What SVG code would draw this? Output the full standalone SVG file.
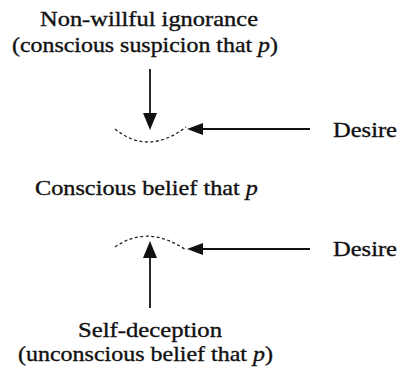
<svg xmlns="http://www.w3.org/2000/svg" width="404" height="374" viewBox="0 0 404 374">
<defs>
<style>
text{font-family:"Liberation Serif","Times New Roman",serif;font-size:21px;fill:#111;stroke:#111;stroke-width:0.35}
.ln{stroke:#111;stroke-width:1.8;fill:none}
.arc{stroke:#222;stroke-width:1.3;fill:none;stroke-dasharray:3 2.5}
.hd{fill:#111;stroke:none}
</style>
</defs>
<rect width="404" height="374" fill="#fff"/>
<g id="nonwillful">
<text x="40" y="26" textLength="218" lengthAdjust="spacingAndGlyphs">Non-willful ignorance</text>
<text x="12" y="52" textLength="266" lengthAdjust="spacingAndGlyphs">(conscious suspicion that <tspan font-style="italic">p</tspan>)</text>
</g>
<g id="junction-upper">
<path class="arc" d="M115,129 Q148,156 186,127"/>
</g>
<g id="desire-upper">
<text x="333" y="137" textLength="64" lengthAdjust="spacingAndGlyphs">Desire</text>
</g>
<g id="conscious-belief">
<text x="35" y="195" textLength="223" lengthAdjust="spacingAndGlyphs">Conscious belief that <tspan font-style="italic">p</tspan></text>
</g>
<g id="junction-lower">
<path class="arc" d="M115,247 Q148,224 186,250"/>
</g>
<g id="desire-lower">
<text x="333" y="256" textLength="64" lengthAdjust="spacingAndGlyphs">Desire</text>
</g>
<g id="self-deception">
<text x="78" y="337" textLength="144" lengthAdjust="spacingAndGlyphs">Self-deception</text>
<text x="18" y="361" textLength="255" lengthAdjust="spacingAndGlyphs">(unconscious belief that <tspan font-style="italic">p</tspan>)</text>
</g>
<g id="connectors">
<line class="ln" x1="150" y1="69" x2="150" y2="114"/>
<polygon class="hd" points="143,113 157,113 150,130"/>
<line class="ln" x1="310" y1="129" x2="202" y2="129"/>
<polygon class="hd" points="203,123 203,135 187,129"/>
<line class="ln" x1="310" y1="249" x2="202" y2="249"/>
<polygon class="hd" points="203,243 203,255 187,249"/>
<line class="ln" x1="150" y1="308" x2="150" y2="257"/>
<polygon class="hd" points="143,258 157,258 150,241"/>
</g>
</svg>
